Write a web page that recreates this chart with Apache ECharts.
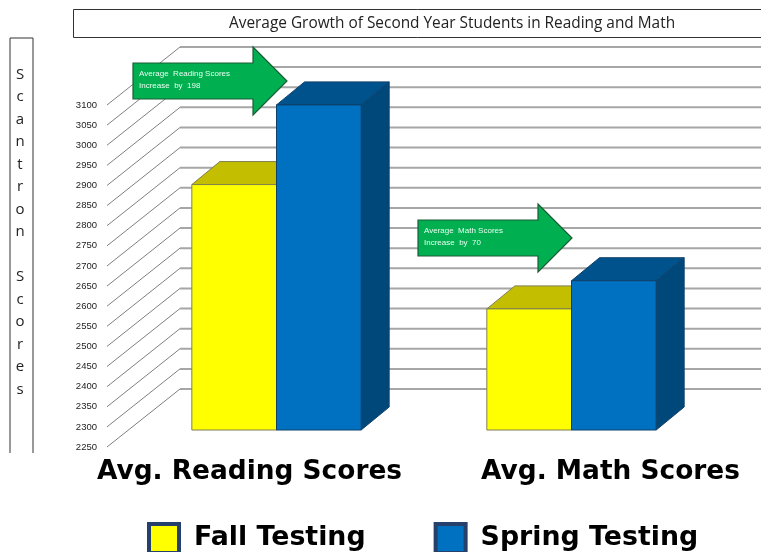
<!DOCTYPE html>
<html>
<head>
<meta charset="utf-8">
<title>Average Growth</title>
<script src="https://cdn.jsdelivr.net/npm/echarts@6/dist/echarts.min.js"></script>
<style>
  html, body { margin: 0; padding: 0; background: #fff; overflow: hidden; }
  #chart { width: 761px; height: 552px; }
</style>
</head>
<body>
<div id="chart"></div>
<script>
const categories = ["Avg. Reading Scores", "Avg. Math Scores"];
const fallScores = [2860, 2551];
const springScores = [3058, 2621];
const tickValues = [2250, 2300, 2350, 2400, 2450, 2500, 2550, 2600, 2650, 2700,
  2750, 2800, 2850, 2900, 2950, 3000, 3050, 3100];
const seriesNames = ["Fall Testing", "Spring Testing"];
const chartTitle = "Average Growth of Second Year Students in Reading and Math";
const yTitle = "Scantron Scores";
const readingNote = ["Average  Reading Scores", "Increase  by  198"];
const mathNote = ["Average  Math Scores", "Increase  by  70"];

// fake 3D: how far the wall and the bars sit behind the axis plane
const wallDx = 73, wallDy = -58;
const barDx = 22, barDy = -17;
const depthDx = 28, depthDy = -23;

function gridWall(params, api) {
  const cs = params.coordSys;
  const y = api.coord([0, api.value(1)])[1];
  return {
    type: "group",
    children: [
      {
        type: "line",
        shape: { x1: cs.x, y1: y, x2: cs.x + wallDx, y2: y + wallDy },
        style: { stroke: "#808080", lineWidth: 1 }
      },
      {
        type: "line",
        shape: { x1: cs.x + wallDx, y1: y + wallDy, x2: cs.x + cs.width + wallDx, y2: y + wallDy },
        style: { stroke: "#a6a6a6", lineWidth: 2 }
      }
    ]
  };
}

function box3d(side, front, top, right, edge) {
  return function (params, api) {
    const cat = api.value(0);
    const band = api.size([1, 0])[0];
    const w = band * 0.287;
    const p = api.coord([cat, api.value(1)]);
    const b = api.coord([cat, tickValues[0]]);
    const x0 = p[0] + barDx + (side < 0 ? -w : 0);
    const x1 = x0 + w;
    const yt = p[1] + barDy;
    const yb = b[1] + barDy;
    const poly = (points, fill) => ({
      type: "polygon",
      shape: { points: points },
      style: { fill: fill, stroke: edge, lineWidth: 1 }
    });
    return {
      type: "group",
      children: [
        poly([[x1, yt], [x1 + depthDx, yt + depthDy], [x1 + depthDx, yb + depthDy], [x1, yb]], right),
        poly([[x0, yt], [x0 + depthDx, yt + depthDy], [x1 + depthDx, yt + depthDy], [x1, yt]], top),
        poly([[x0, yt], [x1, yt], [x1, yb], [x0, yb]], front)
      ]
    };
  };
}

function arrow(x, y, lines) {
  // x,y = left top corner of the arrow shaft
  return [
    {
      type: "polygon",
      z: 20,
      shape: {
        points: [[x, y], [x + 120, y], [x + 120, y - 16], [x + 154, y + 18],
          [x + 120, y + 52], [x + 120, y + 36], [x, y + 36]]
      },
      style: { fill: "#00b050", stroke: "#1c5c36", lineWidth: 1.2 }
    },
    {
      type: "text",
      z: 21,
      x: x + 6,
      y: y + 5,
      style: {
        text: lines.join("\n"),
        fill: "#e8fff0",
        font: '8px "Liberation Sans"',
        lineHeight: 12
      }
    }
  ];
}

const chart = echarts.init(document.getElementById("chart"));
chart.setOption({
  backgroundColor: "#fff",
  animation: false,
  title: {
    text: chartTitle,
    left: 73,
    top: 9,
    padding: [7, 200, 7, 156],
    borderColor: "#333",
    borderWidth: 1,
    textStyle: { fontFamily: "Open Sans", fontSize: 15.4, fontWeight: "normal", color: "#222" }
  },
  legend: {
    left: 147,
    top: 522,
    padding: 0,
    itemWidth: 30,
    itemHeight: 29,
    itemGap: 68,
    icon: "rect",
    data: seriesNames,
    itemStyle: { borderColor: "#24406b", borderWidth: 4 },
    textStyle: {
      fontFamily: "DejaVu Sans",
      fontSize: 26.8,
      fontWeight: "bold",
      color: "#000",
      padding: [0, 0, 0, 10]
    }
  },
  grid: { left: 107, top: 105, width: 590, height: 342 },
  xAxis: {
    type: "category",
    data: categories,
    axisLine: { show: false },
    axisTick: { show: false },
    axisLabel: {
      margin: 12,
      interval: 0,
      color: "#000",
      formatter: (v, i) => "{c" + i + "|" + v + "}",
      rich: {
        c0: { fontFamily: "DejaVu Sans", fontSize: 26.4, fontWeight: "bold", padding: [0, 10, 0, 0] },
        c1: { fontFamily: "DejaVu Sans", fontSize: 26.4, fontWeight: "bold", padding: [0, 0, 0, 122] }
      }
    }
  },
  yAxis: {
    type: "value",
    min: 2250,
    max: 3100,
    interval: 50,
    axisLine: { show: false },
    axisTick: { show: false },
    splitLine: { show: false },
    axisLabel: {
      margin: 10,
      fontFamily: "Liberation Sans",
      fontSize: 9.5,
      color: "#222",
      formatter: (v) => String(v)
    }
  },
  series: [
    {
      type: "custom",
      name: "wall",
      silent: true,
      z: 1,
      renderItem: gridWall,
      data: tickValues.map((t) => [0, t])
    },
    {
      type: "custom",
      name: seriesNames[0],
      z: 2,
      itemStyle: { color: "#ffff00" },
      renderItem: box3d(-1, "#ffff00", "#c4be00", "#c4be00", "#7f7f52"),
      data: categories.map((c, i) => [i, fallScores[i]])
    },
    {
      type: "custom",
      name: seriesNames[1],
      z: 3,
      itemStyle: { color: "#0070c0" },
      renderItem: box3d(1, "#0070c0", "#00528c", "#00477a", "#10406a"),
      data: categories.map((c, i) => [i, springScores[i]])
    }
  ],
  graphic: [
    // y title box, open at the bottom
    {
      type: "polyline",
      shape: { points: [[10, 453], [10, 38], [33, 38], [33, 453]] },
      style: { fill: null, stroke: "#333", lineWidth: 1 }
    },
    {
      type: "text",
      x: 20,
      y: 63,
      style: {
        text: yTitle.split("").join("\n"),
        fill: "#222",
        align: "center",
        font: '15px "Open Sans"',
        lineHeight: 22.5
      }
    },
    ...arrow(133, 63, readingNote),
    ...arrow(418, 220, mathNote)
  ]
});
</script>
</body>
</html>
